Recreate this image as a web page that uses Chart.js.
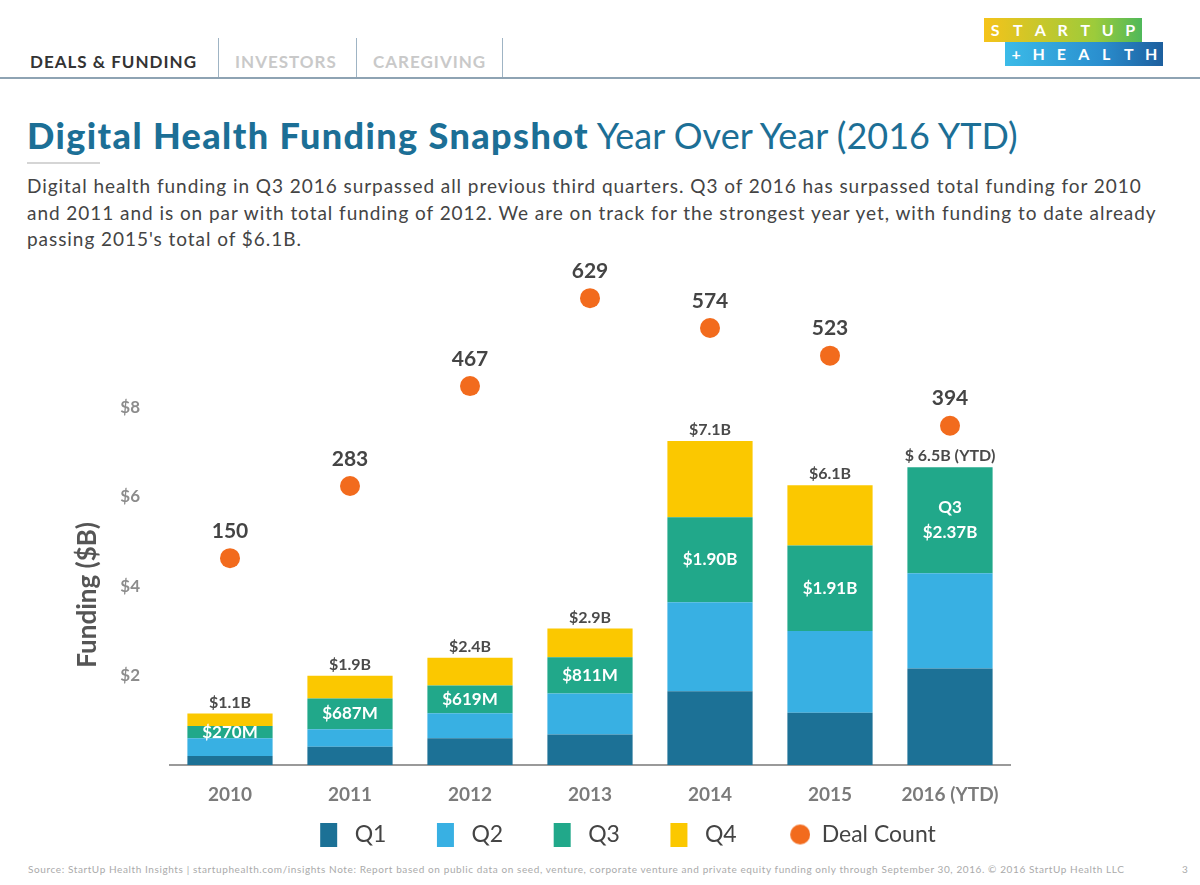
<!DOCTYPE html>
<html>
<head>
<meta charset="utf-8">
<script src="https://cdn.jsdelivr.net/npm/chart.js"></script>
<style>
  html, body { margin: 0; padding: 0; background: #fff; overflow: hidden; }
  body { width: 1200px; height: 885px; position: relative; font-family: Lato, "Open Sans", sans-serif; }
  .tab { position: absolute; top: 51px; font-size: 17px; font-weight: 700; letter-spacing: 1px; }
  .sep { position: absolute; top: 38px; width: 1px; height: 40px; background: #9fb4c4; }
  .rule { position: absolute; left: 0; top: 77px; width: 1200px; height: 2px; background: #8ea3b3; }
  .logo-row { position: absolute; display: flex; height: 24px; }
  .logo-row span { width: 22.5px; text-align: center; color: #fff; font-weight: 700; font-size: 16px; line-height: 24px; }
  h1 { position: absolute; left: 27px; top: 113px; margin: 0; font-size: 36px; color: #1c6f96; font-weight: 400; white-space: nowrap; }
  h1 b { font-weight: 900; letter-spacing: 1.4px; }
  .uline { position: absolute; left: 27px; top: 162px; width: 73px; height: 2px; background: #d5d5d5; }
  .desc { position: absolute; left: 27px; top: 173px; font-size: 19px; line-height: 26.5px; letter-spacing: 0.95px; color: #444; white-space: nowrap; }
  .foot { position: absolute; left: 28px; top: 863px; font-size: 10px; letter-spacing: 0.6px; color: #aaa; white-space: nowrap; }
  canvas { position: absolute; left: 0; top: 230px; }
</style>
</head>
<body>
<div class="tab" style="left:30px;color:#333">DEALS &amp; FUNDING</div>
<div class="sep" style="left:218px"></div>
<div class="tab" style="left:235px;color:#c9c9c9">INVESTORS</div>
<div class="sep" style="left:356px"></div>
<div class="tab" style="left:373px;color:#c9c9c9">CAREGIVING</div>
<div class="sep" style="left:502px"></div>
<div class="rule"></div>
<div class="logo-row" style="left:984px;top:18px;background:linear-gradient(90deg,#f5c31a,#9ccb3b 70%,#4fb85a)">
  <span>S</span><span>T</span><span>A</span><span>R</span><span>T</span><span>U</span><span>P</span>
</div>
<div class="logo-row" style="left:1005px;top:42px;background:linear-gradient(90deg,#3bbbe8,#2a8fcf 60%,#1d5f9e)">
  <span>+</span><span>H</span><span>E</span><span>A</span><span>L</span><span>T</span><span>H</span>
</div>
<h1><b>Digital Health Funding Snapshot</b> Year Over Year (2016 YTD)</h1>
<div class="uline"></div>
<div class="desc">Digital health funding in Q3 2016 surpassed all previous third quarters. Q3 of 2016 has surpassed total funding for 2010<br>and 2011 and is on par with total funding of 2012. We are on track for the strongest year yet, with funding to date already<br>passing 2015's total of $6.1B.</div>
<div class="foot">Source: StartUp Health Insights | startuphealth.com/insights Note: Report based on public data on seed, venture, corporate venture and private equity funding only through September 30, 2016. © 2016 StartUp Health LLC</div>
<div class="foot" style="left:1182px">3</div>

<canvas id="myChart" width="1200" height="626"></canvas>

<script>
  // funding by quarter, $B
  var years = ['2010', '2011', '2012', '2013', '2014', '2015', '2016 (YTD)'];
  var q1 = [0.20, 0.41, 0.60, 0.68, 1.65, 1.17, 2.16];
  var q2 = [0.40, 0.39, 0.56, 0.92, 1.99, 1.83, 2.13];
  var q3 = [0.27, 0.687, 0.619, 0.811, 1.90, 1.91, 2.37];
  var q4 = [0.28, 0.51, 0.62, 0.64, 1.71, 1.35, 0];
  var dealCount = [150, 283, 467, 629, 574, 523, 394];
  var totalLabels = ['$1.1B', '$1.9B', '$2.4B', '$2.9B', '$7.1B', '$6.1B', '$ 6.5B (YTD)'];
  var q3Labels = ['$270M', '$687M', '$619M', '$811M', '$1.90B', '$1.91B', 'Q3\n$2.37B'];

  var colors = ['#1c7196', '#38b0e3', '#21a88a', '#fbc800'];
  var dotColor = '#f26b1d';

  // legend markers: tall boxes for quarters, a dot for deals
  function legendMark(color, round) {
    var c = document.createElement('canvas');
    c.width = 29; c.height = 24;
    var g = c.getContext('2d');
    g.fillStyle = color;
    if (round) {
      g.beginPath(); g.arc(19, 12, 10, 0, Math.PI * 2); g.fill();
    } else {
      g.fillRect(6, 0, 17, 24);
    }
    return c;
  }

  var labelPlugin = {
    id: 'barLabels',
    afterDatasetsDraw: function (chart) {
      var ctx = chart.ctx;
      var barMetas = [0, 1, 2, 3].map(function (i) { return chart.getDatasetMeta(i); });
      var dots = chart.getDatasetMeta(4);
      ctx.save();
      ctx.textAlign = 'center';
      ctx.textBaseline = 'middle';
      years.forEach(function (y, i) {
        var top = Infinity, x = 0;
        barMetas.forEach(function (m, d) {
          if (chart.data.datasets[d].data[i]) {
            top = Math.min(top, m.data[i].y);
            x = m.data[i].x;
          }
        });
        ctx.font = 'bold 16px Lato';
        ctx.fillStyle = '#4a4a4a';
        ctx.fillText(totalLabels[i], x, top - 11);

        var el = barMetas[2].data[i];
        var cy = (el.y + el.base) / 2;
        var lines = q3Labels[i].split('\n');
        ctx.font = 'bold 17px Lato';
        ctx.fillStyle = '#ffffff';
        lines.forEach(function (t, k) {
          ctx.fillText(t, el.x, cy + (k - (lines.length - 1) / 2) * 25);
        });

        var p = dots.data[i];
        ctx.font = 'bold 21px Lato';
        ctx.fillStyle = '#444';
        ctx.fillText(dealCount[i], p.x, p.y - 27);
      });
      ctx.restore();
    }
  };

  var ctx = document.getElementById('myChart').getContext('2d');
  var myChart = new Chart(ctx, {
    type: 'bar',
    data: {
      labels: years,
      datasets: [
        { label: 'Q1', data: q1, backgroundColor: colors[0], yAxisID: 'y' },
        { label: 'Q2', data: q2, backgroundColor: colors[1], yAxisID: 'y' },
        { label: 'Q3', data: q3, backgroundColor: colors[2], yAxisID: 'y' },
        { label: 'Q4', data: q4, backgroundColor: colors[3], yAxisID: 'y' },
        {
          type: 'line', label: 'Deal Count', data: dealCount, yAxisID: 'y1',
          showLine: false, pointRadius: 10, pointHoverRadius: 10,
          backgroundColor: dotColor, borderColor: dotColor, borderWidth: 0
        }
      ]
    },
    options: {
      responsive: false,
      animation: false,
      layout: { padding: { top: 41, right: 0, left: 50, bottom: 0 } },
      datasets: { bar: { barPercentage: 0.71, categoryPercentage: 1 } },
      scales: {
        x: {
          stacked: true,
          grid: { display: false, drawTicks: false },
          border: { display: true, color: '#9a9a9a', width: 2 },
          ticks: { color: '#7b7b7b', font: { family: 'Lato', size: 19, weight: 'bold' }, padding: 18 },
          afterFit: function (s) { s.height = 48; }
        },
        y: {
          stacked: true,
          min: 0,
          max: 11.05,
          grid: { display: false, drawTicks: false },
          border: { display: false },
          ticks: {
            stepSize: 2,
            padding: 30,
            color: '#8c8c8c',
            font: { family: 'Lato', size: 17, weight: 'bold' },
            callback: function (v) { return (v > 0 && v <= 8) ? '$' + v : ''; }
          },
          title: {
            display: true,
            text: '\u2002\u2002\u2002\u2002\u2002\u2002\u2002 Funding ($B)',
            align: 'start',
            color: '#555',
            padding: { top: 22, bottom: 4 },
            font: { family: 'Lato', size: 26, weight: 'bold' }
          },
          afterFit: function (s) { s.width = 120; }
        },
        y1: {
          position: 'right',
          min: -231,
          max: 679,
          grid: { display: false, drawTicks: false },
          border: { display: false },
          ticks: { display: false },
          afterFit: function (s) { s.width = 190; }
        }
      },
      plugins: {
        tooltip: { enabled: false },
        legend: {
          position: 'bottom',
          labels: {
            usePointStyle: true,
            pointStyleWidth: 29,
            boxHeight: 14,
            padding: 10,
            color: '#444',
            font: { family: 'Lato', size: 23 },
            generateLabels: function (chart) {
              return chart.data.datasets.map(function (ds, i) {
                var last = i === chart.data.datasets.length - 1;
                return {
                  text: last ? ds.label : ds.label + '\u2002\u2002\u2002',
                  fillStyle: i < 4 ? colors[i] : dotColor,
                  strokeStyle: i < 4 ? colors[i] : dotColor,
                  lineWidth: 0,
                  pointStyle: legendMark(i < 4 ? colors[i] : dotColor, last),
                  datasetIndex: i,
                  fontColor: '#444'
                };
              });
            }
          }
        }
      }
    },
    plugins: [labelPlugin]
  });
</script>
</body>
</html>
